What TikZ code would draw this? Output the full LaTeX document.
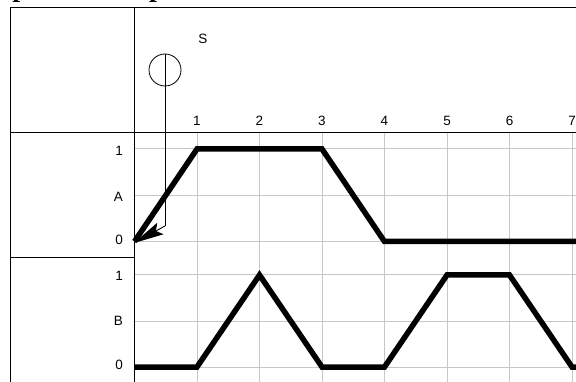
\documentclass[tikz,border=0pt]{standalone}
\usepackage{fontspec}
\setmainfont{Liberation Sans}
\newfontfamily\titlefont{Liberation Serif}
\usetikzlibrary{arrows.meta}
\begin{document}
\begin{tikzpicture}[x=1pt,y=-1pt,
  frame/.style={draw=black, line width=1pt},
  gridl/.style={draw=black!22, line width=1pt},
  sig/.style={draw=black, line width=5.5pt},
  lbl/.style={font=\fontsize{13.5}{15}\selectfont, inner sep=0pt, text=black},
  thinl/.style={draw=black, line width=0.9pt}]
\useasboundingbox (0,0) rectangle (576,382);
% cropped title
\begin{scope}
\clip (0,0) rectangle (576,382);
\node[anchor=base west, inner sep=0pt, font=\titlefont\bfseries\itshape\fontsize{28}{30}\selectfont] (title) at (-12,-3) {вариант – переход не там};
\end{scope}
% grid
\foreach \t in {1,...,7} {
  \draw[gridl] ({134.5+62.5*\t},133) -- ({134.5+62.5*\t},382);
}
\foreach \y in {149,196,241.5,275,321,367} {
  \draw[gridl] (134.5,\y) -- (576,\y);
}
% frame
\coordinate (tl) at (10.5,7.5);
\coordinate (tr) at (576,7.5);
\coordinate (bl) at (10.5,382);
\coordinate (ct) at (134.5,7.5);
\coordinate (cb) at (134.5,382);
\draw[frame, line width=1.6pt] (10,7.5) -- (tr);
\draw[frame] (tl) -- (bl);
\draw[frame] (ct) -- (cb);
\draw[frame] (10,133) -- (576,133);
\draw[frame] (10,258) -- (134.5,258);
% header numbers
\foreach \t in {1,...,7} {
  \node[lbl] (n\t) at ({134.5+62.5*\t},121) {\t};
}
% row labels
\node[lbl, anchor=east] (a1) at (123,151) {1};
\node[lbl, anchor=east] (aA) at (123,197) {A};
\node[lbl, anchor=east] (a0) at (123,240) {0};
\node[lbl, anchor=east] (b1) at (123,276) {1};
\node[lbl, anchor=east] (bB) at (123,321) {B};
\node[lbl, anchor=east] (b0) at (123,365) {0};
% signal A
\coordinate (A0) at (134.5,241.5);
\coordinate (A1) at (197,149);
\coordinate (A2) at (322,149);
\coordinate (A3) at (384.5,241.5);
\coordinate (A4) at (580,241.5);
\draw[sig] (A0) -- (A1) -- (A2) -- (A3) -- (A4);
% signal B
\coordinate (B0) at (134.5,367);
\coordinate (B1) at (197,367);
\coordinate (B2) at (259.5,275);
\coordinate (B3) at (322,367);
\coordinate (B4) at (384.5,367);
\coordinate (B5) at (447,275);
\coordinate (B6) at (509.5,275);
\coordinate (B7) at (572,367);
\coordinate (B8) at (580,367);
\draw[sig] (B0) -- (B1) -- (B2) -- (B3) -- (B4) -- (B5) -- (B6) -- (B7) -- (B8);
% S marker
\node[lbl] (slabel) at (203,39) {S};
\node[circle, draw=black, line width=0.8pt, minimum size=32pt, inner sep=0pt] (s) at (165,70) {};
\coordinate (sb) at (165,226);
\coordinate (stip) at (134,243);
\draw[thinl] (s.north) -- (sb);
\draw[thinl, -{Stealth[length=30pt,width=13pt,inset=5pt,fill=black]}] (sb) -- (stip);
\end{tikzpicture}
\end{document}
